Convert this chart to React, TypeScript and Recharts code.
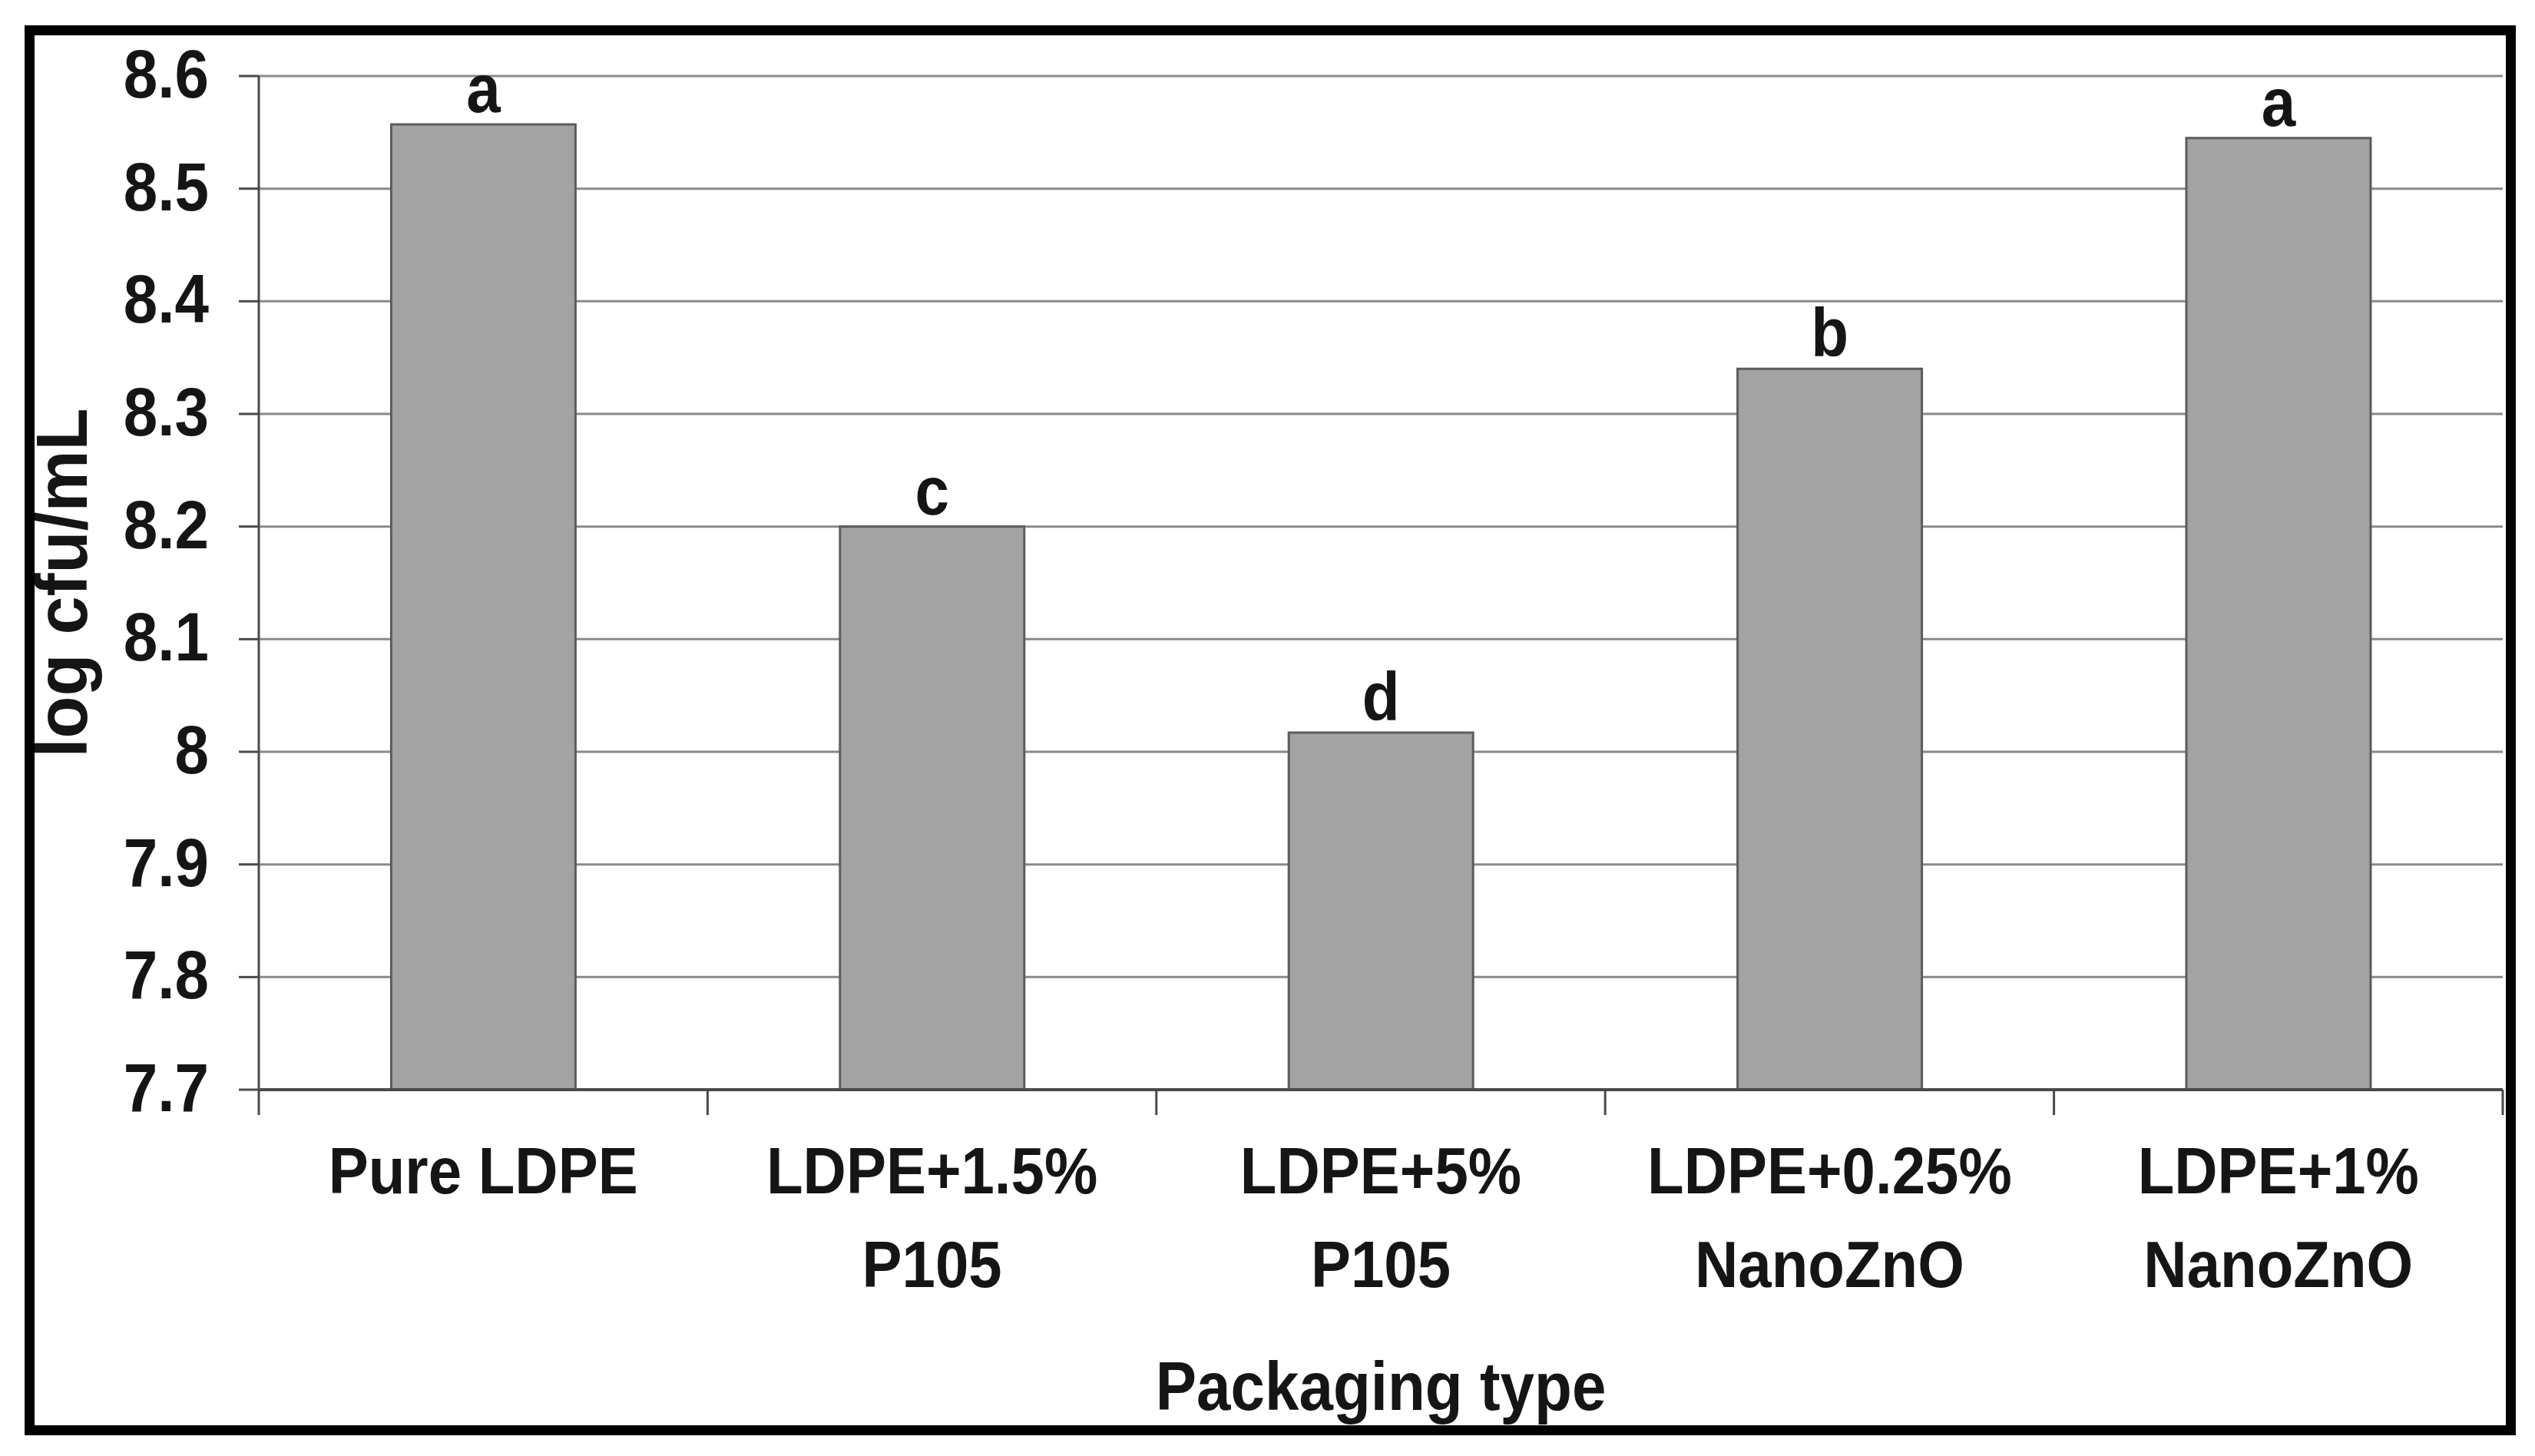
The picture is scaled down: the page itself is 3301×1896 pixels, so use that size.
import { Bar, BarChart, CartesianGrid, Label, LabelList, XAxis, YAxis } from 'recharts'

// packaging types, shown on two lines under the axis
const packagingTypes = ['Pure LDPE', 'LDPE+1.5% P105', 'LDPE+5% P105', 'LDPE+0.25% NanoZnO', 'LDPE+1% NanoZnO']
const labelLine1 = ['Pure LDPE', 'LDPE+1.5%', 'LDPE+5%', 'LDPE+0.25%', 'LDPE+1%']
const labelLine2 = ['', 'P105', 'P105', 'NanoZnO', 'NanoZnO']
const logCfu = [8.557, 8.2, 8.017, 8.34, 8.545]
const letters = ['a', 'c', 'd', 'b', 'a']
const yTicks = [7.7, 7.8, 7.9, 8, 8.1, 8.2, 8.3, 8.4, 8.5, 8.6]

const W = 3301
const H = 1896
const MARGIN = { top: 99, right: 42, left: 0, bottom: 0 }
const Y_W = 337
const X_H = 477
const BAND = (W - MARGIN.left - MARGIN.right - Y_W) / packagingTypes.length
const FONT = '"Liberation Sans", Arial, Helvetica, sans-serif'
const INK = '#151515'
const AXIS = '#4a4a4a'
const STRETCH = 1.1 // source text is a bit taller than plain Arial

const data = packagingTypes.map((name, i) => ({ name, value: logCfu[i], letter: letters[i] }))

function Tall({ x, y, size, anchor = 'middle', children }: any) {
  return (
    <text
      transform={`translate(${x} ${y}) scale(1 ${STRETCH})`}
      x={0}
      y={0}
      textAnchor={anchor}
      fontFamily={FONT}
      fontWeight={700}
      fontSize={size}
      fill={INK}
    >
      {children}
    </text>
  )
}

function XTick({ x, y, index }: any) {
  const half = BAND / 2
  const last = index === packagingTypes.length - 1
  return (
    <g>
      <line x1={x - half} x2={x - half} y1={y} y2={y + 33} stroke={AXIS} strokeWidth={3} />
      {last && <line x1={x + half} x2={x + half} y1={y} y2={y + 33} stroke={AXIS} strokeWidth={3} />}
      <Tall x={x} y={y + 135} size={78}>{labelLine1[index]}</Tall>
      {labelLine2[index] && <Tall x={x} y={y + 257} size={78}>{labelLine2[index]}</Tall>}
    </g>
  )
}

function YTick({ x, y, payload }: any) {
  return (
    <Tall x={x} y={y + 28} size={80} anchor="end">
      {String(Number(payload.value.toFixed(1)))}
    </Tall>
  )
}

function Letter({ x, y, width, value }: any) {
  return (
    <Tall x={x + width / 2} y={y - 16} size={80}>
      {value}
    </Tall>
  )
}

export default function App() {
  return (
    <div style={{ position: 'absolute', left: 0, top: 0, width: W, height: H, background: '#fff' }}>
      <BarChart width={W} height={H} data={data} margin={MARGIN} barCategoryGap="29.5%">
        <CartesianGrid stroke="#8a8a8a" strokeWidth={3} vertical={false} />
        <XAxis
          dataKey="name"
          height={X_H}
          interval={0}
          tickSize={0}
          tickMargin={0}
          tickLine={false}
          axisLine={{ stroke: AXIS, strokeWidth: 4 }}
          tick={<XTick />}
        >
          <Label
            content={({ viewBox }: any) => (
              <Tall x={viewBox.x + viewBox.width / 2} y={viewBox.y + 417} size={80}>
                Packaging type
              </Tall>
            )}
          />
        </XAxis>
        <YAxis
          type="number"
          domain={[7.7, 8.6]}
          ticks={yTicks}
          width={Y_W}
          tickSize={26}
          tickMargin={39}
          axisLine={{ stroke: AXIS, strokeWidth: 3 }}
          tickLine={{ stroke: AXIS, strokeWidth: 3 }}
          tick={<YTick />}
        >
          <Label
            content={({ viewBox }: any) => {
              const cx = viewBox.x + 80
              const cy = viewBox.y + viewBox.height / 2
              return (
                <text
                  transform={`translate(${cx} ${cy}) rotate(-90) scale(1 1.05)`}
                  x={0}
                  y={0}
                  dy="0.35em"
                  textAnchor="middle"
                  fontFamily={FONT}
                  fontWeight={700}
                  fontSize={90}
                  fill={INK}
                >
                  log cfu/mL
                </text>
              )
            }}
          />
        </YAxis>
        <Bar dataKey="value" fill="#a3a3a3" stroke="#5c5c5c" strokeWidth={3} isAnimationActive={false}>
          <LabelList dataKey="letter" content={<Letter />} />
        </Bar>
      </BarChart>
      <div
        style={{
          position: 'absolute',
          left: 32,
          top: 33,
          width: 3276 - 32,
          height: 1869 - 33,
          border: '13px solid #000',
          boxSizing: 'border-box',
          pointerEvents: 'none',
        }}
      />
    </div>
  )
}
